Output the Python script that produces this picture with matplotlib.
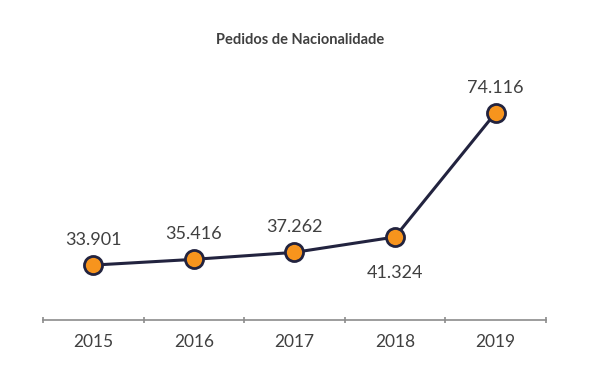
import matplotlib
matplotlib.use("Agg")
import matplotlib.pyplot as plt

# ---------------- data ----------------
YEARS  = ["2015", "2016", "2017", "2018", "2019"]
VALUES = [33901, 35416, 37262, 41324, 74116]
LABELS = ["33.901", "35.416", "37.262", "41.324", "74.116"]
BELOW  = [False, False, False, True, False]   # 2018 label sits under the point
# --------------------------------------

LINE_C   = "#22233f"
MARKER_C = "#f7941d"
TEXT_C   = "#404040"
AXIS_C   = "#8c8c8c"

plt.rcParams["font.family"] = ["Lato", "DejaVu Sans"]

fig = plt.figure(figsize=(6, 3.76), dpi=100)
ax = fig.add_axes([0.0717, 0.149, 0.838, 0.61])

x = list(range(len(YEARS)))
ax.plot(x, VALUES, color=LINE_C, lw=2.2, marker="o", ms=13,
        mfc=MARKER_C, mec=LINE_C, mew=2, zorder=3)

for xi, v, lab, below in zip(x, VALUES, LABELS, BELOW):
    off = -26 if below else 18
    ax.annotate(lab, (xi, v), xytext=(0, off), textcoords="offset points",
                ha="center", va="center", fontsize=13, color=TEXT_C)

ax.set_xlim(-0.5, len(YEARS) - 0.5)
ax.set_ylim(19400, 80000)

for s in ["top", "right", "left"]:
    ax.spines[s].set_visible(False)
ax.spines["bottom"].set_color(AXIS_C)
ax.spines["bottom"].set_linewidth(1.2)

ax.set_yticks([])
ax.set_xticks(x)
ax.set_xticklabels(YEARS, fontsize=12.5, color=TEXT_C)
ax.tick_params(axis="x", which="major", length=0, pad=10)
ax.set_xticks([i - 0.5 for i in range(len(YEARS) + 1)], minor=True)
ax.tick_params(axis="x", which="minor", length=5, direction="inout",
               color=AXIS_C, width=1.2)

fig.text(0.5, 0.893, "Pedidos de Nacionalidade", ha="center", va="center",
         fontsize=10.5, fontweight="bold", color=TEXT_C)

fig.savefig("out.png", dpi=100, facecolor="white")
